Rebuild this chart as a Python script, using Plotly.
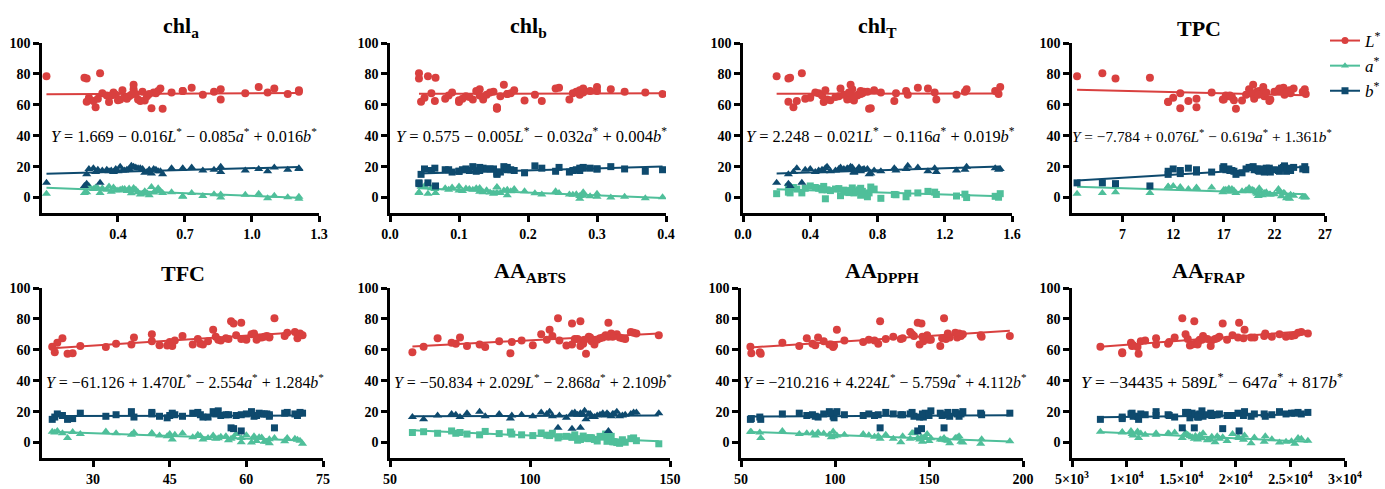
import numpy as np
import plotly.graph_objects as go
from plotly.subplots import make_subplots

FONT = "Liberation Serif"
RED = "#d9403f"
TEAL = "#4fbf9a"
NAVY = "#0e4a6e"

# colour values per sample (last four are the pale outlier samples)
L_STAR = [62.0, 58.5, 64.5, 67.5, 57.8, 62.5, 61.8, 64.0, 63.5, 68.0,
          65.5, 63.0, 70.0, 66.0, 62.8, 65.0, 63.5, 66.5, 69.0, 57.5,
          64.0, 67.0, 66.0, 68.5, 73.0, 65.5, 67.5, 62.5, 69.5, 68.0,
          66.5, 70.5, 67.0, 68.0, 63.5, 69.0, 71.0, 66.5, 68.5, 70.0,
          67.5, 69.0, 71.5, 68.0, 70.5, 67.0, 69.5, 68.5,
          78.5, 80.5, 77.0, 77.5]
A_STAR = [7.0, 6.5, 7.5, 6.0, 6.8, 5.5, 7.2, 6.0, 5.0, 6.5,
          5.8, 4.5, 6.2, 5.0, 4.0, 5.5, 3.5, 4.8, 6.0, 3.0,
          4.2, 5.0, 3.8, 2.5, 4.5, 3.0, 4.0, 2.0, 5.5, 3.2,
          2.8, 4.0, 1.5, 3.5, 2.0, 0.5, 3.0, 1.0, 2.2, 0.0,
          1.8, 0.8, 2.5, -0.5, 1.2, 0.2, -0.8, 0.5,
          2.5, 3.0, 3.5, 3.0]
B_STAR = [15.0, 16.5, 18.5, 17.5, 15.5, 19.0, 17.0, 18.0, 20.0, 16.5,
          18.5, 17.0, 19.5, 18.0, 16.0, 17.5, 19.0, 18.5, 17.0, 15.0,
          18.0, 19.5, 17.5, 18.5, 20.0, 16.5, 18.0, 19.0, 17.5, 18.5,
          20.5, 17.0, 18.0, 19.0, 16.5, 18.5, 19.5, 17.5, 18.0, 20.0,
          17.5, 19.0, 18.5, 17.0, 19.5, 18.0, 19.0, 18.5,
          9.5, 9.5, 9.0, 7.5]

# measured compound / activity per sample
CHLA = [0.26, 0.30, 0.27, 0.33, 0.55, 0.29, 0.36, 0.31, 0.41, 0.38,
        0.45, 0.40, 0.47, 0.35, 0.52, 0.43, 0.49, 0.39, 0.58, 0.60,
        0.44, 0.48, 0.37, 0.51, 0.47, 0.53, 0.57, 0.50, 0.42, 0.56,
        0.46, 0.59, 0.54, 0.64, 0.86, 0.69, 0.73, 0.78, 0.83, 0.86,
        0.97, 0.69, 1.03, 1.07, 1.10, 1.16, 1.21, 1.21,
        0.08, 0.32, 0.26, 0.25]
CHLB = [0.045, 0.155, 0.05, 0.06, 0.155, 0.065, 0.10, 0.08, 0.12, 0.09,
        0.11, 0.10, 0.13, 0.085, 0.195, 0.115, 0.135, 0.14, 0.125, 0.155,
        0.105, 0.17, 0.13, 0.15, 0.165, 0.16, 0.175, 0.22, 0.18, 0.145,
        0.21, 0.24, 0.17, 0.28, 0.26, 0.30, 0.245, 0.275, 0.27, 0.32,
        0.265, 0.29, 0.30, 0.37, 0.28, 0.395, 0.275, 0.34,
        0.055, 0.042, 0.042, 0.066]
CHLT = [0.27, 0.30, 0.40, 0.45, 0.76, 0.32, 0.48, 0.37, 0.50, 0.43,
        0.57, 0.52, 0.65, 0.47, 0.66, 0.55, 0.62, 0.60, 0.70, 0.75,
        0.64, 0.69, 0.68, 0.72, 0.64, 0.66, 0.71, 0.90, 0.78, 0.63,
        0.98, 1.10, 0.70, 1.14, 1.15, 0.97, 1.04, 1.27, 1.32, 1.33,
        0.91, 1.50, 1.53, 0.82, 0.58, 1.52, 0.49, 0.74,
        0.20, 0.35, 0.27, 0.28]
TPC = [11.5, 14.3, 12.0, 12.7, 12.7, 13.5, 11.5, 14.3, 17.0, 15.8,
       17.5, 18.0, 19.5, 17.2, 18.8, 17.8, 16.9, 19.2, 20.5, 18.2,
       20.0, 19.8, 17.6, 20.3, 19.9, 21.0, 20.6, 21.5, 22.4, 20.2,
       23.0, 22.5, 20.8, 21.2, 21.6, 23.3, 22.9, 20.4, 22.0, 25.0,
       23.6, 22.7, 20.9, 23.2, 23.9, 25.1, 23.5, 24.8,
       2.5, 5.0, 6.3, 9.7]
TFC = [22.0, 22.5, 23.0, 24.0, 26.0, 27.5, 32.5, 34.5, 37.5, 38.0,
       41.5, 43.0, 41.5, 46.0, 44.5, 45.0, 49.5, 60.0, 47.5, 25.0,
       51.0, 50.5, 55.0, 54.0, 53.5, 52.5, 56.0, 45.5, 58.0, 63.0,
       54.5, 61.5, 56.5, 62.5, 51.5, 64.0, 68.0, 62.0, 64.5, 61.0,
       70.0, 67.5, 69.5, 64.5, 70.5, 59.0, 71.0, 63.5,
       57.0, 65.5, 57.5, 59.0]
ABTS = [62.0, 58.0, 72.0, 67.0, 93.0, 77.5, 84.0, 73.5, 82.0, 75.0,
        89.0, 101.0, 104.0, 97.0, 113.0, 93.5, 115.0, 106.0, 108.0, 120.0,
        119.0, 116.0, 110.5, 121.0, 107.0, 122.0, 125.0, 118.0, 127.0, 121.5,
        119.5, 129.0, 117.0, 126.0, 123.0, 130.0, 137.0, 124.0, 128.0, 131.0,
        133.0, 127.5, 136.0, 132.0, 138.0, 134.0, 146.0, 129.5,
        118.0, 110.0, 115.0, 128.0]
DPPH = [55.0, 60.0, 72.0, 85.0, 55.5, 81.0, 99.0, 88.0, 97.0, 91.0,
        94.0, 89.5, 141.0, 105.0, 99.5, 115.0, 98.0, 118.0, 142.0, 60.5,
        123.0, 127.0, 121.0, 131.0, 101.0, 147.0, 136.0, 156.0, 149.0, 165.0,
        151.0, 166.0, 159.0, 148.0, 145.0, 167.0, 164.0, 150.0, 178.0, 168.0,
        157.0, 193.0, 140.0, 161.0, 160.0, 135.0, 177.5, 146.5,
        124.0, 158.0, 146.0, 144.0]
FRAP = [7600, 9600, 10400, 12700, 9600, 10500, 11000, 13800, 12700, 14400,
        11300, 10600, 15400, 11700, 15800, 13900, 16000, 16700, 17000, 11100,
        16300, 15600, 17800, 18500, 20800, 16600, 18300, 17700, 19700, 21700,
        16900, 22700, 17400, 20200, 16500, 22600, 25700, 19200, 23300, 24000,
        20700, 25100, 26000, 21400, 26600, 18100, 25400, 24600,
        16200, 15100, 18800, 20300]

TITLES = ["chl<sub>a</sub>", "chl<sub>b</sub>", "chl<sub>T</sub>", "TPC",
          "TFC", "AA<sub>ABTS</sub>", "AA<sub>DPPH</sub>", "AA<sub>FRAP</sub>"]
EQUATIONS = [
    ("1.669", "−", "0.016", "−", "0.085", "+", "0.016"),
    ("0.575", "−", "0.005", "−", "0.032", "+", "0.004"),
    ("2.248", "−", "0.021", "−", "0.116", "+", "0.019"),
    ("−7.784", "+", "0.076", "−", "0.619", "+", "1.361"),
    ("−61.126", "+", "1.470", "−", "2.554", "+", "1.284"),
    ("−50.834", "+", "2.029", "−", "2.868", "+", "2.109"),
    ("−210.216", "+", "4.224", "−", "5.759", "+", "4.112"),
    ("−34435", "+", "589", "−", "647", "+", "817"),
]
X_TICKS = [
    [0.4, 0.7, 1.0, 1.3],
    [0.0, 0.1, 0.2, 0.3, 0.4],
    [0.0, 0.4, 0.8, 1.2, 1.6],
    [7, 12, 17, 22, 27],
    [30, 45, 60, 75],
    [50, 100, 150],
    [50, 100, 150, 200],
    [5000, 10000, 15000, 20000, 25000, 30000],
]
X_TICKTEXT = [
    ["0.4", "0.7", "1.0", "1.3"],
    ["0.0", "0.1", "0.2", "0.3", "0.4"],
    ["0.0", "0.4", "0.8", "1.2", "1.6"],
    ["7", "12", "17", "22", "27"],
    ["30", "45", "60", "75"],
    ["50", "100", "150"],
    ["50", "100", "150", "200"],
    ["5×10<sup>3</sup>", "1×10<sup>4</sup>", "1.5×10<sup>4</sup>",
     "2×10<sup>4</sup>", "2.5×10<sup>4</sup>", "3×10<sup>4</sup>"],
]
X_RANGES = [[0.06, 1.3], [0.0, 0.4], [0.0, 1.6], [2, 27],
            [20, 75], [50, 150], [50, 200], [5000, 30000]]
Y_TICKS = [0, 20, 40, 60, 80, 100]

xs_all = [CHLA, CHLB, CHLT, TPC, TFC, ABTS, DPPH, FRAP]
# marker shape for a* and b* differs between panels
SYMBOLS = [("triangle-up", "triangle-up"), ("triangle-up", "square"),
           ("square", "triangle-up"), ("triangle-up", "square"),
           ("triangle-up", "square"), ("square", "triangle-up"),
           ("triangle-up", "square"), ("triangle-up", "square")]
MARKER_SIZE = {"circle": 8, "triangle-up": 8, "square": 7}

W, H = 1385, 489
X_PX = [(42, 319), (390, 666), (743, 1012), (1072, 1325),
        (42, 323), (390, 670), (741, 1023), (1072, 1345)]
Y_PX = [(43, 213), (288, 458)]
EQ_SIZE = [16.2, 16.5, 16.4, 15.3, 15.9, 15.9, 15.8, 17.5]


def px(v):
    return v / W


def py(v):
    return 1 - v / H


fig = make_subplots(rows=2, cols=4)

for i, xs in enumerate(xs_all):
    assert len(xs) == len(L_STAR)
    row, col = i // 4 + 1, i % 4 + 1
    x = np.array(xs, dtype=float)
    series = [(L_STAR, RED, "circle"), (A_STAR, TEAL, SYMBOLS[i][0]),
              (B_STAR, NAVY, SYMBOLS[i][1])]
    for vals, color, sym in series:
        y = np.array(vals)
        k, b = np.polyfit(x, y, 1)
        xl = np.array([x.min(), x.max()])
        fig.add_trace(go.Scatter(
            x=xl, y=k * xl + b, mode="lines", showlegend=False,
            line=dict(color=color, width=2), hoverinfo="skip",
        ), row=row, col=col)
        fig.add_trace(go.Scatter(
            x=x, y=y, mode="markers", showlegend=False,
            marker=dict(color=color, symbol=sym, size=MARKER_SIZE[sym],
                        line=dict(width=0)),
        ), row=row, col=col)

# legend entries
for name, color, sym in [("<i>L</i><sup>*</sup>", RED, "circle"),
                         ("<i>a</i><sup>*</sup>", TEAL, "triangle-up"),
                         ("<i>b</i><sup>*</sup>", NAVY, "square")]:
    fig.add_trace(go.Scatter(
        x=[None], y=[None], mode="lines+markers", name=name,
        line=dict(color=color, width=2),
        marker=dict(color=color, symbol=sym, size=7),
    ), row=1, col=4)

axis_font = dict(family=FONT, size=14, color="black")
annotations = []
for i in range(8):
    n = "" if i == 0 else str(i + 1)
    x0, x1 = X_PX[i]
    y0, y1 = Y_PX[i // 4]
    fig.layout["xaxis" + n].update(
        domain=[px(x0), px(x1)], range=X_RANGES[i], automargin=False,
        tickvals=X_TICKS[i], ticktext=[f"<b>{t}</b>" for t in X_TICKTEXT[i]],
        showline=True, linewidth=2.5, linecolor="black",
        ticks="outside", ticklen=6, tickwidth=2.5, tickcolor="black",
        showgrid=False, zeroline=False, tickfont=axis_font,
    )
    fig.layout["yaxis" + n].update(
        domain=[py(y1), py(y0)], range=[-10, 100], automargin=False,
        tickvals=Y_TICKS, ticktext=[f"<b>{t}</b>" for t in Y_TICKS],
        showline=True, linewidth=2.5, linecolor="black",
        ticks="outside", ticklen=6, tickwidth=2.5, tickcolor="black",
        showgrid=False, zeroline=False, tickfont=axis_font,
    )
    c, s1, l, s2, a, s3, bb = EQUATIONS[i]
    eq = (f"<i>Y</i> = {c} {s1} {l}<i>L</i><sup>*</sup> {s2} {a}<i>a</i><sup>*</sup>"
          f" {s3} {bb}<i>b</i><sup>*</sup>")
    annotations.append(dict(
        text=eq, xref="paper", x=px((x0 + x1) / 2 + 3), yref=f"y{n}", y=40,
        showarrow=False, xanchor="center", yanchor="middle",
        font=dict(family=FONT, size=EQ_SIZE[i], color="black"),
    ))
    annotations.append(dict(
        text=f"<b>{TITLES[i]}</b>", xref="paper", x=px((x0 + x1) / 2),
        yref="paper", y=py(y0), showarrow=False,
        xanchor="center", yanchor="bottom",
        font=dict(family=FONT, size=22, color="black"),
    ))

fig.update_layout(
    width=W, height=H,
    font=dict(family=FONT, color="black"),
    margin=dict(l=0, r=0, t=0, b=0, autoexpand=False),
    paper_bgcolor="white", plot_bgcolor="white",
    annotations=annotations,
    showlegend=True,
    legend=dict(x=px(1325), y=py(23), xanchor="left", yanchor="top",
                itemwidth=30,
                font=dict(family=FONT, size=17, color="black"),
                bgcolor="rgba(0,0,0,0)", tracegroupgap=2),
)

# drop the default page margin so the figure sits at the window's corner
fig.write_html("out.html", config={"displayModeBar": False},
               post_script="document.body.style.margin = '0px';")
